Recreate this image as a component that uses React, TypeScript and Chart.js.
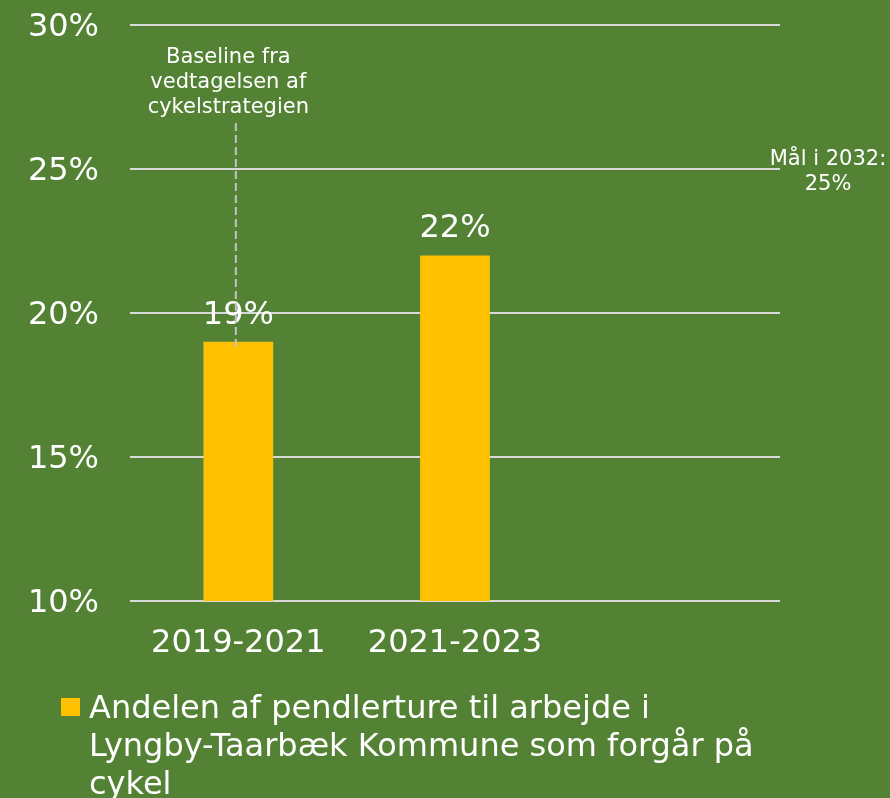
import React, { useEffect, useRef } from "react";
import { Chart, registerables } from "chart.js";

Chart.register(...registerables);

const categories: string[] = ["2019-2021", "2021-2023", ""];
const shares: (number | null)[] = [19, 22, null];
const seriesLabel = "Andelen af pendlerture til arbejde i Lyngby-Taarbæk Kommune som forgår på cykel";
const yTicks: number[] = [10, 15, 20, 25, 30];
const baselineNote: string[] = ["Baseline fra", "vedtagelsen af", "cykelstrategien"];
const goalNote: string[] = ["Mål i 2032:", "25%"];
const goalValue = 25;
const baselineLineRange: number[] = [26.6, 18.8];

const FONT = "'DejaVu Sans', Verdana, sans-serif";
const BG = "#548235";
const BAR = "#FFC000";

export default function App() {
  const canvasRef = useRef<HTMLCanvasElement | null>(null);

  useEffect(() => {
    document.body.style.margin = "0";
    const canvas = canvasRef.current;
    if (!canvas) return;

    const annotations = {
      id: "annotations",
      afterDatasetsDraw(chart: any) {
        const ctx = chart.ctx;
        const x = chart.scales.x;
        const y = chart.scales.y;
        const area = chart.chartArea;
        ctx.save();
        // value labels
        const meta = chart.getDatasetMeta(0);
        ctx.fillStyle = "#ffffff";
        ctx.font = `32px ${FONT}`;
        ctx.textAlign = "center";
        ctx.textBaseline = "alphabetic";
        meta.data.forEach((el: any, i: number) => {
          const v = shares[i];
          if (v == null) return;
          ctx.fillText(`${v}%`, el.x, el.y - 18);
        });
        // baseline dashed line
        const cx = x.getPixelForValue(0);
        ctx.strokeStyle = "#c4c4c4";
        ctx.lineWidth = 2;
        ctx.setLineDash([8, 4]);
        ctx.beginPath();
        ctx.moveTo(cx - 2.5, y.getPixelForValue(baselineLineRange[0]));
        ctx.lineTo(cx - 2.5, y.getPixelForValue(baselineLineRange[1]));
        ctx.stroke();
        ctx.setLineDash([]);
        // baseline note
        ctx.font = `21px ${FONT}`;
        ctx.fillStyle = "#ffffff";
        const top = y.getPixelForValue(30);
        baselineNote.forEach((line, i) => {
          ctx.fillText(line, cx - 10, top + 38 + i * 25);
        });
        // goal note
        const gy = y.getPixelForValue(goalValue);
        goalNote.forEach((line, i) => {
          ctx.fillText(line, area.right + 48, gy - 4 + i * 25);
        });
        ctx.restore();
      },
    };

    const chart = new Chart(canvas, {
      type: "bar",
      data: {
        labels: categories,
        datasets: [
          {
            label: seriesLabel,
            data: shares,
            backgroundColor: BAR,
            borderWidth: 0,
            categoryPercentage: 1,
            barPercentage: 0.322,
          },
        ],
      },
      options: {
        responsive: false,
        animation: false,
        layout: { padding: { top: 25, right: 110, bottom: 137, left: 0 } },
        plugins: {
          legend: { display: false },
          tooltip: { enabled: false },
        },
        scales: {
          x: {
            grid: { display: false, drawTicks: false },
            border: { display: false },
            ticks: {
              color: "#ffffff",
              font: { family: FONT, size: 32 },
              padding: 23,
              maxRotation: 0,
              autoSkip: false,
            },
            afterFit(s: any) {
              s.height = 60;
              s.paddingLeft = 0;
              s.paddingRight = 0;
            },
          },
          y: {
            min: yTicks[0],
            max: yTicks[yTicks.length - 1],
            afterBuildTicks(s: any) {
              s.ticks = yTicks.map((v) => ({ value: v }));
            },
            grid: { color: "#d9d9d9", lineWidth: 2, drawTicks: false },
            border: { display: false },
            ticks: {
              color: "#ffffff",
              font: { family: FONT, size: 32 },
              padding: 31,
              labelOffset: 3,
              callback: (v: any) => `${v}%`,
            },
            afterFit(s: any) {
              s.width = 130;
              s.paddingTop = 0;
              s.paddingBottom = 0;
            },
          },
        },
      },
      plugins: [annotations],
    });
    return () => chart.destroy();
  }, []);

  return (
    <div
      style={{
        position: "relative",
        width: 890,
        height: 798,
        background: BG,
        overflow: "hidden",
        fontFamily: FONT,
      }}
    >
      <canvas ref={canvasRef} width={890} height={798} style={{ position: "absolute", left: 0, top: 0 }} />
      <div
        style={{
          position: "absolute",
          left: 61,
          top: 688,
          display: "flex",
          alignItems: "flex-start",
        }}
      >
        <span
          style={{
            display: "inline-block",
            width: 19,
            height: 18,
            background: BAR,
            marginTop: 10,
            marginRight: 9,
            flex: "none",
          }}
        />
        <span
          style={{
            color: "#ffffff",
            fontSize: 32,
            lineHeight: "38px",
            width: 686,
          }}
        >
          {seriesLabel}
        </span>
      </div>
    </div>
  );
}
